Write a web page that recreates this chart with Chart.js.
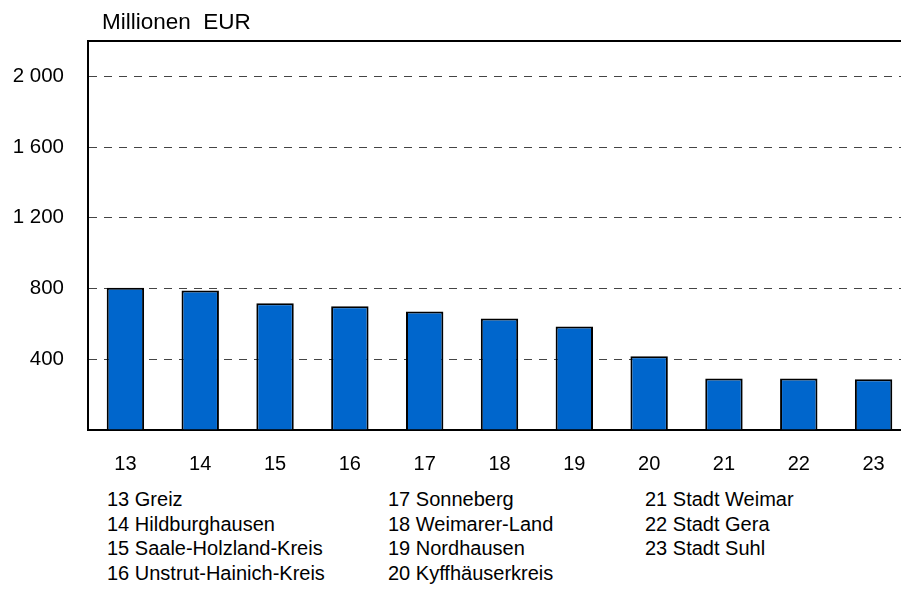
<!DOCTYPE html>
<html>
<head>
<meta charset="utf-8">
<script src="https://cdn.jsdelivr.net/npm/chart.js@4"></script>
<style>
    body { margin: 0; overflow: hidden; background: #fff; font-family: "Liberation Sans", Arial, sans-serif; }
    #wrap { position: relative; width: 901px; height: 589px; overflow: hidden; }
    #chart { position: absolute; left: 0; top: 0; }
    .title { position: absolute; left: 102px; top: 9px; font-size: 22.5px; white-space: pre; color: #000; }
    .leg { position: absolute; font-size: 20px; color: #000; white-space: nowrap; line-height: 24.5px; }
</style>
</head>
<body>
<div id="wrap">
    <canvas id="chart" width="911" height="480"></canvas>
    <div class="title">Millionen  EUR</div>
    <div id="legend"></div>
</div>
<script>
// Kreise und kreisfreie Staedte (Nr.)
const kreisNr = ['13', '14', '15', '16', '17', '18', '19', '20', '21', '22', '23'];
const kreisNamen = ['Greiz', 'Hildburghausen', 'Saale-Holzland-Kreis', 'Unstrut-Hainich-Kreis',
    'Sonneberg', 'Weimarer-Land', 'Nordhausen', 'Kyffhäuserkreis',
    'Stadt Weimar', 'Stadt Gera', 'Stadt Suhl'];
// Millionen EUR
const werte = [804, 789, 717, 700, 670, 631, 586, 417, 291, 291, 287];
const yTicks = [400, 800, 1200, 1600, 2000];

function formatZahl(v){
    return String(v).replace(/\B(?=(\d{3})+(?!\d))/g, ' ');
}

// Legende in drei Spalten
const spalten = [[0, 4, 107], [4, 8, 388], [8, 11, 645]];
let html = '';
spalten.forEach(function(s){
    html += '<div class="leg" style="left:' + s[2] + 'px;top:487px">';
    for (let i = s[0]; i < s[1]; i++) {
        html += kreisNr[i] + ' ' + kreisNamen[i] + '<br>';
    }
    html += '</div>';
});
document.getElementById('legend').innerHTML = html;

const topLinie = {
    id: 'topLinie',
    afterDraw: function(chart){
        const a = chart.chartArea;
        const ctx = chart.ctx;
        ctx.save();
        ctx.strokeStyle = '#000';
        ctx.lineWidth = 2;
        ctx.beginPath();
        ctx.moveTo(a.left - 1, a.top);
        ctx.lineTo(a.right, a.top);
        ctx.stroke();
        ctx.restore();
    }
};

const ctx = document.getElementById('chart').getContext('2d');
const chart = new Chart(ctx, {
    type: 'bar',
    data: {
        labels: kreisNr,
        datasets: [{
            data: werte,
            backgroundColor: '#0066cc',
            borderColor: '#000',
            borderWidth: 2,
            barPercentage: 0.5,
            categoryPercentage: 1
        }]
    },
    options: {
        responsive: false,
        animation: false,
        layout: { padding: { top: 41, left: 0, right: 0, bottom: 0 } },
        plugins: { legend: { display: false }, tooltip: { enabled: false } },
        scales: {
            x: {
                afterFit: function(s){ s.height = 50; },
                grid: { display: false },
                border: { display: true, color: '#000', width: 2 },
                ticks: { color: '#000', padding: 14, font: { family: 'Liberation Sans', size: 20 } }
            },
            y: {
                min: 0,
                max: 2200,
                afterFit: function(s){ s.width = 88; },
                afterBuildTicks: function(s){
                    s.ticks = [0].concat(yTicks).concat([2200]).map(function(v){ return { value: v }; });
                },
                grid: {
                    drawTicks: false,
                    color: function(c){
                        return yTicks.indexOf(c.tick.value) >= 0 ? '#444' : 'rgba(0,0,0,0)';
                    },
                    lineWidth: 1
                },
                border: { display: true, color: '#000', width: 2, dash: [8, 7] },
                ticks: {
                    color: '#000',
                    padding: 24,
                    font: { family: 'Liberation Sans', size: 20.5 },
                    callback: function(v){ return yTicks.indexOf(v) >= 0 ? formatZahl(v) : ''; }
                }
            }
        }
    },
    plugins: [topLinie]
});
</script>
</body>
</html>
